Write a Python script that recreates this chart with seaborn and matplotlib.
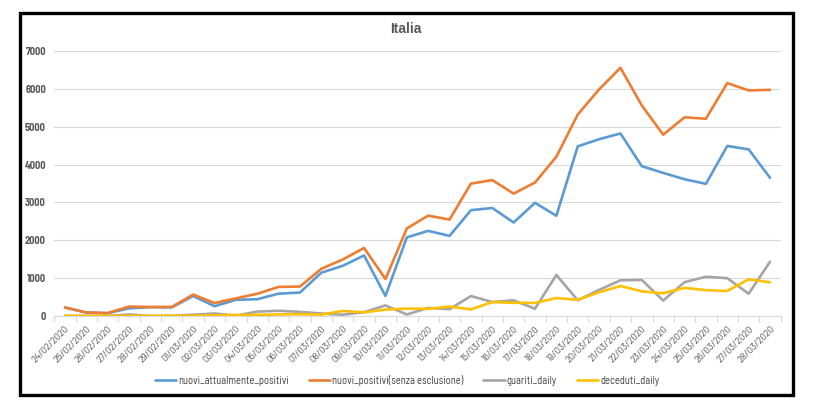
import matplotlib
matplotlib.use("Agg")
import matplotlib.pyplot as plt
import matplotlib.patches as mpatches
from matplotlib.ticker import FixedLocator
import seaborn as sns
import pandas as pd
import numpy as np

dates = ["24/02/2020", "25/02/2020", "26/02/2020", "27/02/2020", "28/02/2020", "29/02/2020",
         "01/03/2020", "02/03/2020", "03/03/2020", "04/03/2020", "05/03/2020", "06/03/2020",
         "07/03/2020", "08/03/2020", "09/03/2020", "10/03/2020", "11/03/2020", "12/03/2020",
         "13/03/2020", "14/03/2020", "15/03/2020", "16/03/2020", "17/03/2020", "18/03/2020",
         "19/03/2020", "20/03/2020", "21/03/2020", "22/03/2020", "23/03/2020", "24/03/2020",
         "25/03/2020", "26/03/2020", "27/03/2020", "28/03/2020"]

nuovi_attualmente_positivi = [221, 90, 74, 203, 233, 228, 528, 258, 428, 443, 590, 620,
                              1145, 1326, 1598, 529, 2076, 2249, 2116, 2795, 2853, 2470,
                              2989, 2648, 4480, 4670, 4821, 3957, 3780, 3612, 3491, 4492,
                              4401, 3651]
nuovi_positivi = [229, 93, 78, 250, 238, 240, 566, 342, 466, 587, 769, 778,
                  1247, 1492, 1797, 977, 2313, 2651, 2547, 3497, 3590, 3233,
                  3526, 4207, 5322, 5986, 6557, 5560, 4789, 5249, 5210, 6153,
                  5959, 5974]
guariti_daily = [1, 0, 2, 42, 1, 4, 33, 66, 11, 116, 138, 109,
                 66, 33, 102, 280, 41, 213, 181, 527, 369, 414,
                 192, 1084, 415, 689, 943, 952, 408, 894, 1036, 999,
                 589, 1434]
deceduti_daily = [7, 3, 2, 5, 4, 8, 5, 18, 27, 28, 41, 49,
                  36, 133, 97, 168, 196, 189, 250, 175, 368, 349,
                  345, 475, 427, 627, 793, 651, 601, 743, 683, 662,
                  969, 889]

series_names = ["nuovi_attualmente_positivi", "nuovi_positivi(senza esclusione)",
                "guariti_daily", "deceduti_daily"]
series_values = [nuovi_attualmente_positivi, nuovi_positivi, guariti_daily, deceduti_daily]
colors = ["#5B9BD5", "#ED7D31", "#A5A5A5", "#FFC000"]
y_ticks = [0, 1000, 2000, 3000, 4000, 5000, 6000, 7000]
title = "Italia"

rows = []
for name, vals in zip(series_names, series_values):
    for i, v in enumerate(vals):
        rows.append({"idx": i, "value": v, "serie": name})
df = pd.DataFrame(rows)

sns.set_theme(style="white")
NARROW = ['Barlow Semi Condensed', 'Archivo Narrow', 'DejaVu Sans']
plt.rcParams['font.family'] = NARROW

W, H = 813, 412
fig = plt.figure(figsize=(W / 100, H / 100), dpi=100)
fig.patch.set_facecolor("white")

x0, x1 = 54.3, 780.7
ytop, ybot = 51, 316
ax = fig.add_axes([x0 / W, 1 - ybot / H, (x1 - x0) / W, (ybot - ytop) / H])

sns.lineplot(data=df, x="idx", y="value", hue="serie", hue_order=series_names,
             palette=colors, linewidth=1.9, ax=ax, legend=True)

n = len(dates)
ax.set_xlim(-0.5, n - 0.5)
ax.set_ylim(0, 7000)
ax.set_yticks(y_ticks)
ax.set_yticklabels([str(t) for t in y_ticks], fontsize=7.5, color="#595959",
                   fontweight="bold")
ax.yaxis.grid(True, color="#D9D9D9", linewidth=0.8)
ax.set_axisbelow(True)
ax.set_xticks(range(n))
ax.set_xticklabels(dates, rotation=45, ha="right", rotation_mode="anchor",
                   fontsize=7.5, color="#595959")
ax.xaxis.set_minor_locator(FixedLocator(np.arange(-0.5, n, 1.0)))
ax.tick_params(axis="x", which="major", length=0, pad=6)
ax.tick_params(axis="x", which="minor", length=4, color="#D9D9D9", width=0.8,
               direction="out", bottom=True)
ax.tick_params(axis="y", length=0, pad=6)
for s in ["top", "right", "left"]:
    ax.spines[s].set_visible(False)
ax.spines["bottom"].set_color("#D9D9D9")
ax.spines["bottom"].set_linewidth(0.8)
ax.set_xlabel("")
ax.set_ylabel("")

handles, labels = ax.get_legend_handles_labels()
ax.get_legend().remove()
leg = fig.legend(handles, labels, loc="center", bbox_to_anchor=(407 / W, 1 - 380 / H),
                 ncol=4, frameon=False, fontsize=7.6, handlelength=2.0,
                 handletextpad=0.2, columnspacing=1.9, labelcolor="#404040")
for h in leg.get_lines():
    h.set_linewidth(1.9)

fig.text(405.5 / W, 1 - 29 / H, title, ha="center", va="center", fontsize=10,
         fontweight="bold", color="#595959", family=['Liberation Sans', 'DejaVu Sans'])

border = mpatches.Rectangle((19.5 / W, 1 - 395 / H), (793 - 19.5) / W, (395 - 13) / H,
                            transform=fig.transFigure, fill=False, edgecolor="black",
                            linewidth=2.4)
fig.patches.append(border)

fig.savefig("out.png", dpi=100, facecolor="white")
